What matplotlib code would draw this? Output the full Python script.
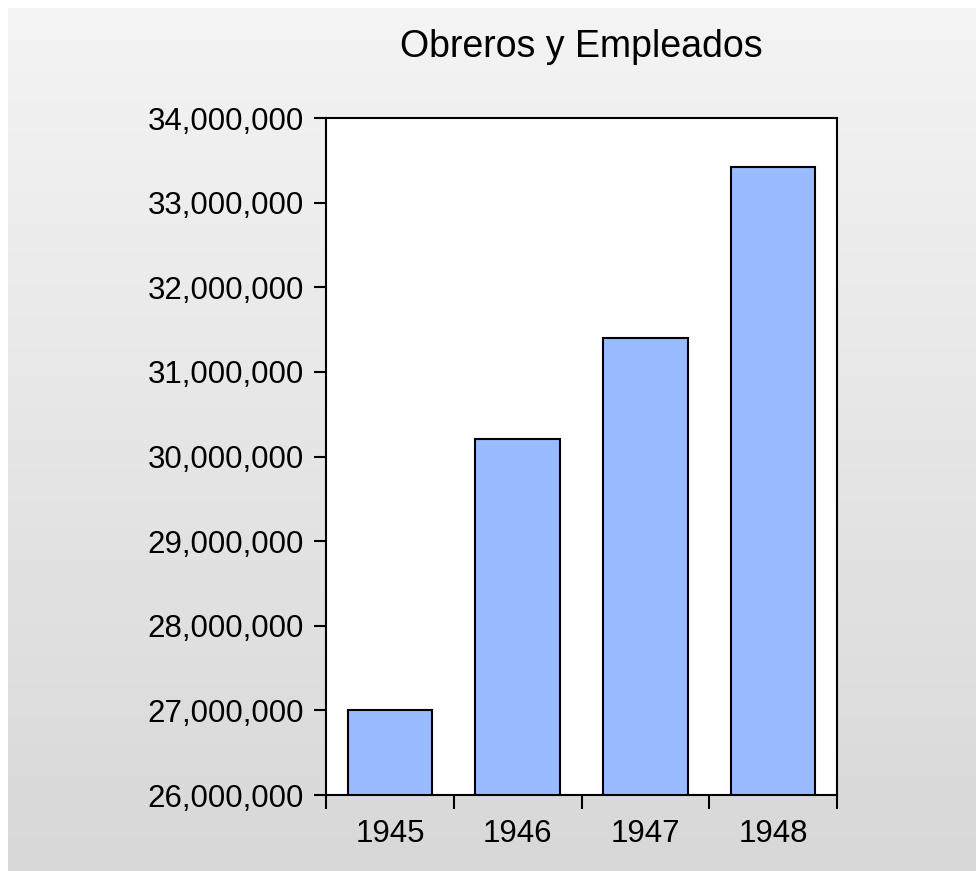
import matplotlib
matplotlib.use("Agg")
import matplotlib.pyplot as plt
import numpy as np
from matplotlib.ticker import FuncFormatter, FixedLocator

years = ["1945", "1946", "1947", "1948"]
workers = [27000000, 30210000, 31400000, 33420000]

plt.rcParams['font.family'] = ['Liberation Sans', 'DejaVu Sans']

fig = plt.figure(figsize=(9.76, 8.71), dpi=100)
fig.patch.set_facecolor("white")

# gray gradient panel behind the chart
bg = fig.add_axes([8 / 976, 0, 1 - 8 / 976, 1 - 8 / 871], zorder=-10)
grad = np.linspace(0, 1, 256).reshape(-1, 1)
bg.imshow(grad, aspect="auto", cmap=matplotlib.colors.LinearSegmentedColormap.from_list(
    "bg", ["#f4f4f4", "#d8d8d8"]), extent=[0, 1, 0, 1], origin="upper")
bg.set_axis_off()

ax = fig.add_axes([326 / 976, 1 - 795 / 871, (837 - 326) / 976, (795 - 118) / 871])
ax.set_facecolor("white")

x = np.arange(len(years))
ax.bar(x, workers, width=0.66, color="#99bbff", edgecolor="black", linewidth=1.5)

ax.set_xlim(-0.5, len(years) - 0.5)
ax.set_ylim(26000000, 34000000)
ax.set_yticks(np.arange(26000000, 34000001, 1000000))
ax.yaxis.set_major_formatter(FuncFormatter(lambda v, p: "{:,.0f}".format(v)))

ax.xaxis.set_major_locator(FixedLocator(np.arange(-0.5, len(years), 1.0)))
ax.xaxis.set_major_formatter(FuncFormatter(lambda v, p: ""))
ax.set_xticks(x, minor=True)
ax.set_xticklabels(years, minor=True)
ax.tick_params(axis="x", which="major", direction="out", length=10, width=1.5)
ax.tick_params(axis="x", which="minor", length=0, pad=17, labelsize=22.5)
ax.tick_params(axis="y", direction="out", length=9, width=1.5, labelsize=22.5, pad=7)

for s in ax.spines.values():
    s.set_linewidth(1.5)
    s.set_color("black")

ax.set_title("Obreros y Empleados", fontsize=27, pad=44)

fig.savefig("out.png", dpi=100)
